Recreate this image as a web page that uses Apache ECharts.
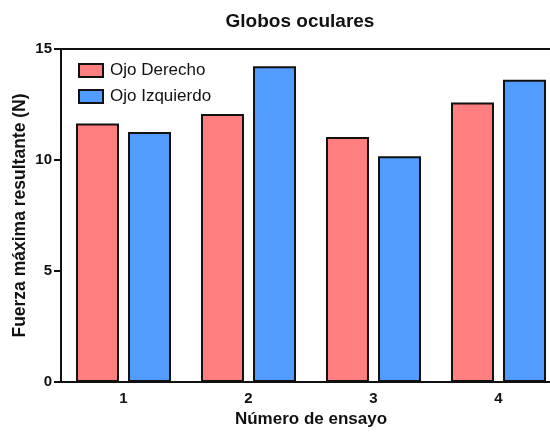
<!DOCTYPE html>
<html>
<head>
<meta charset="utf-8">
<script src="https://cdn.jsdelivr.net/npm/echarts@6/dist/echarts.min.js"></script>
<style>
  html, body { margin: 0; padding: 0; background: #fff; }
  #chart { width: 550px; height: 434px; }
</style>
</head>
<body>
<div id="chart"></div>
<script>
// Trial numbers and peak resultant force per eye (N)
const categories = ['1', '2', '3', '4'];
const ojoDerecho = [11.64, 12.07, 11.04, 12.59];
const ojoIzquierdo = [11.26, 14.22, 10.17, 13.62];
const yTicks = [0, 5, 10, 15];

const FONT = 'Arial, "Liberation Sans", sans-serif';
const chart = echarts.init(document.getElementById('chart'), null, { renderer: 'canvas' });

const barStyle = (color) => ({ color: color, borderColor: '#111', borderWidth: 2 });

chart.setOption({
  animation: false,
  backgroundColor: '#fff',
  title: {
    text: 'Globos oculares',
    left: 295,
    top: 7,
    textAlign: 'center',
    textStyle: { fontFamily: FONT, fontSize: 19, fontWeight: 'bold', color: '#111' }
  },
  legend: {
    orient: 'vertical',
    left: 73,
    top: 57,
    icon: 'rect',
    itemWidth: 24,
    itemHeight: 13,
    itemGap: 9,
    textStyle: { fontFamily: FONT, fontSize: 17, color: '#111', padding: [0, 0, 0, 2] },
    data: ['Ojo Derecho', 'Ojo Izquierdo']
  },
  grid: {
    left: 61,
    width: 500,
    top: 49,
    height: 333,
    outerBoundsMode: 'none',
    containLabel: false,
    show: true,
    borderColor: '#111',
    borderWidth: 2,
    backgroundColor: 'transparent'
  },
  xAxis: {
    type: 'category',
    data: categories,
    name: 'Número de ensayo',
    nameLocation: 'middle',
    nameGap: 29,
    nameMoveOverlap: false,
    nameTextStyle: { fontFamily: FONT, fontSize: 17, fontWeight: 'bold', color: '#111' },
    axisLine: { lineStyle: { color: '#111', width: 2 } },
    axisTick: { alignWithLabel: true, length: 6, lineStyle: { color: '#111', width: 2 } },
    axisLabel: { fontFamily: FONT, fontSize: 15, fontWeight: 'bold', color: '#111', margin: 9 }
  },
  yAxis: {
    type: 'value',
    min: 0,
    max: 15,
    interval: 5,
    name: 'Fuerza máxima resultante (N)',
    nameLocation: 'middle',
    nameGap: 32,
    nameMoveOverlap: false,
    nameTextStyle: { fontFamily: FONT, fontSize: 17.5, fontWeight: 'bold', color: '#111' },
    axisLine: { show: true, lineStyle: { color: '#111', width: 2 } },
    axisTick: { show: true, length: 7, lineStyle: { color: '#111', width: 2 } },
    axisLabel: {
      fontFamily: FONT, fontSize: 15, fontWeight: 'bold', color: '#111', margin: 9,
      formatter: (v) => (yTicks.includes(v) ? String(v) : '')
    },
    splitLine: { show: false }
  },
  series: [
    {
      name: 'Ojo Derecho',
      type: 'bar',
      data: ojoDerecho,
      barWidth: '34.4%',
      barGap: '21%',
      itemStyle: barStyle('#FF7F80')
    },
    {
      name: 'Ojo Izquierdo',
      type: 'bar',
      data: ojoIzquierdo,
      barWidth: '34.4%',
      barGap: '21%',
      itemStyle: barStyle('#529BFF')
    }
  ]
});
</script>
</body>
</html>
